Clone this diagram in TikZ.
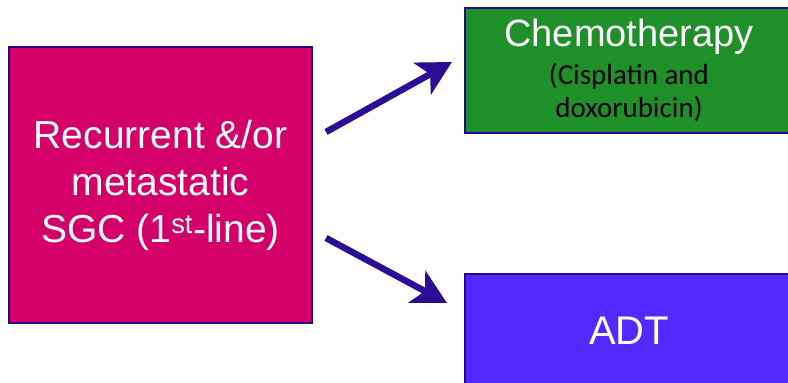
\documentclass[tikz,border=0pt]{standalone}
\usepackage{fontspec}
\setmainfont{Liberation Sans}
\newfontfamily\carlito{Carlito}
\usetikzlibrary{arrows.meta}
\definecolor{sgcmagenta}{HTML}{D4006A}
\definecolor{chemogreen}{HTML}{1F8F2A}
\definecolor{adtviolet}{HTML}{5229FF}
\definecolor{edgeblue}{HTML}{1E0E8C}
\definecolor{arrowblue}{HTML}{2A0C96}
\newcommand{\drugfont}{\carlito\fontsize{29}{33}\selectfont\color{black}}
\begin{document}
\begin{tikzpicture}[x=1pt, y=-1pt,
    box/.style={draw=edgeblue, line width=1.5pt, inner sep=0pt, align=center, text=white},
    arr/.style={draw=arrowblue, line width=6.5pt, -{Stealth[length=34pt, width=36pt, inset=9pt]}}]
    \useasboundingbox (0,0) rectangle (788,383);
    \clip (0,0) rectangle (788,383);

    % boxes
    \node[box, fill=sgcmagenta, minimum width=303pt, minimum height=276pt,
          font=\fontsize{39}{47}\selectfont] (sgc) at (160.5,185)
          {Recurrent \&/or\\metastatic\\SGC (1\textsuperscript{st}-line)};
    \node[box, fill=chemogreen, minimum width=328pt, minimum height=125pt,
          font=\fontsize{38}{33}\selectfont] (chemo) at (629,70.5)
          {Chemotherapy\\[5pt] \drugfont (Cisplatin and\\ \drugfont doxorubicin)};
    \node[box, fill=adtviolet, minimum width=328pt, minimum height=114pt,
          font=\fontsize{40}{48}\selectfont] (adt) at (629,331) {ADT};

    % arrows
    \coordinate (up-start) at (326,132);
    \coordinate (up-end) at (452,62);
    \coordinate (dn-start) at (326,238);
    \coordinate (dn-end) at (447,303);
    \draw[arr] (up-start) -- (up-end);
    \draw[arr] (dn-start) -- (dn-end);
\end{tikzpicture}
\end{document}
